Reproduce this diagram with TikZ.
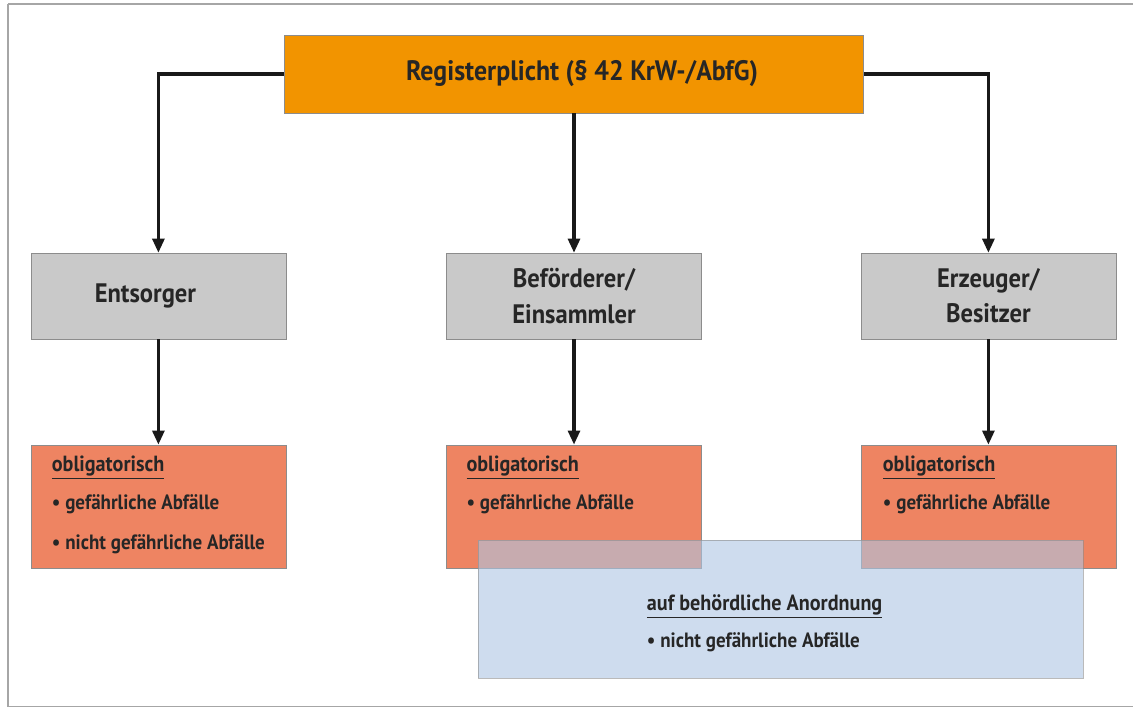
\documentclass[tikz,border=0pt]{standalone}
\usepackage{fontspec}
\setmainfont{PT Sans}[FakeStretch=0.92]
\usetikzlibrary{arrows.meta}
\definecolor{orangeR}{HTML}{F29400}
\definecolor{grauA}{HTML}{C9C9C9}
\definecolor{rotP}{HTML}{EE8462}
\definecolor{blauB}{HTML}{ADC5E3}
\definecolor{randgrau}{HTML}{8C8C8C}
\tikzset{
  akteur/.style={draw=randgrau, fill=grauA, rectangle, minimum width=6.375cm, minimum height=2.15cm, align=center, font=\fontsize{19}{25}\selectfont\bfseries, text=black!85},
  pflicht/.style={draw=randgrau, fill=rotP, rectangle, minimum width=6.375cm, minimum height=3.075cm},
  zeile/.style={anchor=base west, inner sep=0pt, font=\fontsize{14.7}{17}\selectfont\bfseries, text=black!85},
  kopf/.style={zeile, font=\fontsize{15.6}{18}\selectfont\bfseries},
  pfeil/.style={-{Triangle[length=10pt, width=8.5pt]}, line width=2.2pt, black!90}
}
\begin{document}
\begin{tikzpicture}
\useasboundingbox (0,0) rectangle (28.325,17.7);
% Rahmen
\draw[black!35, line width=0.8pt] (0.2,17.6) -- (28.325,17.6);
\draw[black!35, line width=0.8pt] (0.2,17.6) -- (0.2,0.03) -- (28.325,0.03);

\node at (14.35,15.85) [draw=randgrau, fill=orangeR, rectangle, minimum width=14.475cm, minimum height=1.95cm, font=\fontsize{20}{24}\selectfont\bfseries, text=black!85] (reg) {\hspace*{0.4cm}Registerplicht (§ 42 KrW-/AbfG)};

\node at (3.96,10.3) [akteur] (ents) {Entsorger\hspace*{0.65cm}};
\node at (14.35,10.3) [akteur] (befo) {Beförderer/\\Einsammler};
\node at (24.71,10.3) [akteur] (erz) {Erzeuger/\\Besitzer};

\node at (3.96,5.04) [pflicht] (p1) {};
\node at (14.35,5.04) [pflicht] (p2) {};
\node at (24.71,5.04) [pflicht] (p3) {};

\draw[pfeil] (reg.west) -| (ents.north);
\draw[pfeil] (reg.south) -- (befo.north);
\draw[pfeil] (reg.east) -| (erz.north);
\draw[pfeil] (ents) -- (p1);
\draw[pfeil] (befo) -- (p2);
\draw[pfeil] (erz) -- (p3);

% Texte obligatorisch
\node[kopf] at ([shift={(0.525,-0.675)}]p1.north west) (t1a) {\underline{obligatorisch}};
\node[zeile] at ([shift={(0.525,-1.625)}]p1.north west) (t1b) {• gefährliche Abfälle};
\node[zeile] at ([shift={(0.525,-2.625)}]p1.north west) (t1c) {• nicht gefährliche Abfälle};
\node[kopf] at ([shift={(0.5,-0.675)}]p2.north west) (t2a) {\underline{obligatorisch}};
\node[zeile] at ([shift={(0.5,-1.625)}]p2.north west) (t2b) {• gefährliche Abfälle};
\node[kopf] at ([shift={(0.55,-0.675)}]p3.north west) (t3a) {\underline{obligatorisch}};
\node[zeile] at ([shift={(0.55,-1.625)}]p3.north west) (t3b) {• gefährliche Abfälle};

\node at (19.51,2.475) [draw=randgrau, fill=blauB, fill opacity=0.6, draw opacity=0.6, rectangle, minimum width=15.125cm, minimum height=3.45cm] (anord) {};
\node[kopf] at ([shift={(4.225,-1.775)}]anord.north west) (t4a) {\underline{auf behördliche Anordnung}};
\node[zeile] at ([shift={(4.225,-2.7)}]anord.north west) (t4b) {• nicht gefährliche Abfälle};
\end{tikzpicture}
\end{document}
